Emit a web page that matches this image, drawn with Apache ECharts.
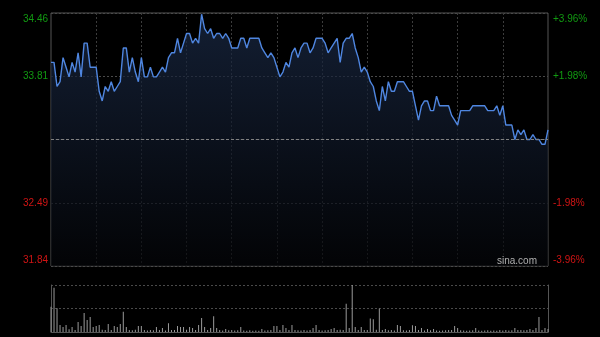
<!DOCTYPE html>
<html><head><meta charset="utf-8">
<script src="https://cdn.jsdelivr.net/npm/echarts@6/dist/echarts.min.js"></script>
<style>html,body{margin:0;padding:0;background:#000;}#c{width:600px;height:337px;}</style>
</head><body><div id="c"></div>
<script>
// ---- data ----
const prevClose = 33.15;
// price every 2 minutes, 09:30-12:00 then 13:02-16:00
const prices = [
33.95,33.95,33.70,33.75,34.00,33.90,33.80,33.95,33.85,34.05,
33.80,34.15,34.15,33.90,33.90,33.90,33.65,33.55,33.70,33.65,
33.75,33.65,33.70,33.75,34.10,34.10,33.85,34.00,33.85,33.75,
34.00,33.80,33.80,33.90,33.80,33.80,33.85,33.90,33.85,34.00,
34.05,34.05,34.20,34.05,34.15,34.25,34.25,34.15,34.20,34.15,
34.45,34.30,34.25,34.30,34.20,34.25,34.25,34.20,34.25,34.20,
34.10,34.10,34.10,34.20,34.20,34.10,34.20,34.20,34.20,34.20,
34.10,34.05,34.00,34.05,34.00,33.90,33.80,33.85,33.95,33.90,
34.05,34.10,34.00,34.10,34.15,34.15,34.05,34.10,34.20,34.20,
34.20,34.15,34.05,34.10,34.15,34.20,33.95,34.15,34.20,34.20,
34.25,34.10,34.00,33.85,33.90,33.85,33.75,33.70,33.55,33.45,
33.70,33.55,33.75,33.65,33.65,33.75,33.75,33.75,33.70,33.65,
33.65,33.50,33.35,33.50,33.55,33.55,33.45,33.45,33.60,33.50,
33.50,33.50,33.50,33.40,33.35,33.30,33.45,33.45,33.45,33.45,
33.50,33.50,33.50,33.50,33.50,33.45,33.45,33.45,33.50,33.40,
33.50,33.30,33.30,33.30,33.15,33.25,33.20,33.25,33.15,33.15,
33.20,33.15,33.15,33.10,33.10,33.25
];
const volumes = [
107,188,101,30,21,30,12,21,9,43,
26,81,51,64,21,26,30,10,8,34,
9,26,21,34,86,21,9,7,10,26,
26,8,6,9,7,21,8,17,6,37,
9,8,26,21,21,10,21,17,8,30,
60,21,9,17,67,17,8,6,13,7,
8,6,7,21,6,5,7,5,6,5,
13,6,7,9,26,26,9,30,17,8,
30,9,7,6,8,6,9,17,30,8,
6,7,9,13,17,8,10,9,120,17,
200,21,9,21,8,9,57,54,10,100,
9,13,7,8,6,30,26,7,6,8,
29,26,9,17,6,13,7,13,6,5,
6,7,8,9,26,17,7,6,5,6,
7,17,6,5,6,7,5,6,5,9,
6,8,6,7,17,9,9,7,8,13,
9,17,64,9,17,13
];
const leftTickLabels = ['31.84','32.49','','33.81','34.46'];
const rightTickLabels = ['-3.96%','-1.98%','','+1.98%','+3.96%'];
const pctMin = -3.96, pctMax = 3.96, pctStep = 1.98;
const volMax = 200;
const watermark = 'sina.com';

// ---- build ----
function hm(t){const h=Math.floor(t/60),m=t%60;return (h<10?'0':'')+h+':'+(m<10?'0':'')+m;}
const times = [];
for (let m = 0; m <= 150; m += 2) times.push(hm(9*60+30+m));
for (let m = 152; m <= 330; m += 2) times.push(hm(13*60+(m-150)));
const pct = prices.map(p => +((p/prevClose - 1)*100).toFixed(4));

const GREEN = '#119a11', RED = '#d01414';
const keys = ['b','r','n','g','t'];
const rich = {
  t:{color:GREEN,padding:[12,0,0,0]},
  g:{color:GREEN},
  r:{color:RED},
  b:{color:RED,padding:[0,0,12,0]},
  n:{color:'#000'}
};
function idx(v){return Math.round((v-pctMin)/pctStep);}
const FONT = 'Liberation Sans';

const chart = echarts.init(document.getElementById('c'), null, {renderer:'canvas'});
chart.setOption({
  backgroundColor:'#000',
  animation:false,
  textStyle:{fontFamily:FONT},
  grid:[
    {left:51,right:52,top:13,bottom:71,show:true,borderColor:'#555',borderWidth:1,backgroundColor:'transparent'},
    {left:51,right:52,top:285,height:47}
  ],
  xAxis:[
    {type:'category',gridIndex:0,data:times,boundaryGap:false,
     axisLine:{show:false},axisTick:{show:false},axisLabel:{show:false},
     splitLine:{show:true,interval:function(i){return i%15===0 && i!==0 && i!==times.length-1;},
       lineStyle:{color:'#3c3c3c',type:[2,2],width:1}}},
    {type:'category',gridIndex:1,data:times,boundaryGap:false,
     axisLine:{show:true,lineStyle:{color:'#555'}},axisTick:{show:false},axisLabel:{show:false},splitLine:{show:false}}
  ],
  yAxis:[
    {type:'value',gridIndex:0,min:pctMin,max:pctMax,interval:pctStep,position:'left',
     axisLine:{show:false},axisTick:{show:false},
     splitLine:{show:true,lineStyle:{color:'#4a4a4a',type:[2,2],width:1}},
     axisLabel:{show:true,margin:3,fontSize:10,fontFamily:FONT,rich:rich,
       formatter:function(v){const i=idx(v);const t=leftTickLabels[i];return t?'{'+keys[i]+'|'+t+'}':'';}}},
    {type:'value',gridIndex:0,min:pctMin,max:pctMax,interval:pctStep,position:'right',
     axisLine:{show:false},axisTick:{show:false},splitLine:{show:false},
     axisLabel:{show:true,margin:5,fontSize:10,fontFamily:FONT,rich:rich,
       formatter:function(v){const i=idx(v);const t=rightTickLabels[i];return t?'{'+keys[i]+'|'+t+'}':'';}}},
    {type:'value',gridIndex:1,min:0,max:volMax,interval:volMax/2,position:'left',
     axisLine:{show:true,lineStyle:{color:'#555'}},axisTick:{show:false},axisLabel:{show:false},
     splitLine:{show:true,lineStyle:{color:'#4a4a4a',type:[2,2],width:1}}},
    {type:'value',gridIndex:1,min:0,max:volMax,interval:volMax/2,position:'right',
     axisLine:{show:true,lineStyle:{color:'#555'}},axisTick:{show:false},axisLabel:{show:false},splitLine:{show:false}}
  ],
  series:[
    {type:'line',xAxisIndex:0,yAxisIndex:0,data:pct,symbol:'none',smooth:false,
     lineStyle:{color:'#4f86e0',width:1.4},
     areaStyle:{origin:'start',color:new echarts.graphic.LinearGradient(0,0,0,1,[
       {offset:0,color:'#1b2b48'},{offset:1,color:'#040508'}])},
     markLine:{silent:true,symbol:'none',label:{show:false},animation:false,
       lineStyle:{color:'#808080',type:[3,2],width:1},data:[{yAxis:0}]},
     z:3},
    {type:'bar',xAxisIndex:1,yAxisIndex:2,data:volumes,barWidth:1,
     itemStyle:{color:'#9a9a9a'}}
  ],
  graphic:[
    {type:'text',x:537,y:261,z:100,
     style:{text:watermark,fill:'#b0b0b0',font:'10px "Liberation Sans"',align:'right',verticalAlign:'middle'}}
  ]
});
</script></body></html>
